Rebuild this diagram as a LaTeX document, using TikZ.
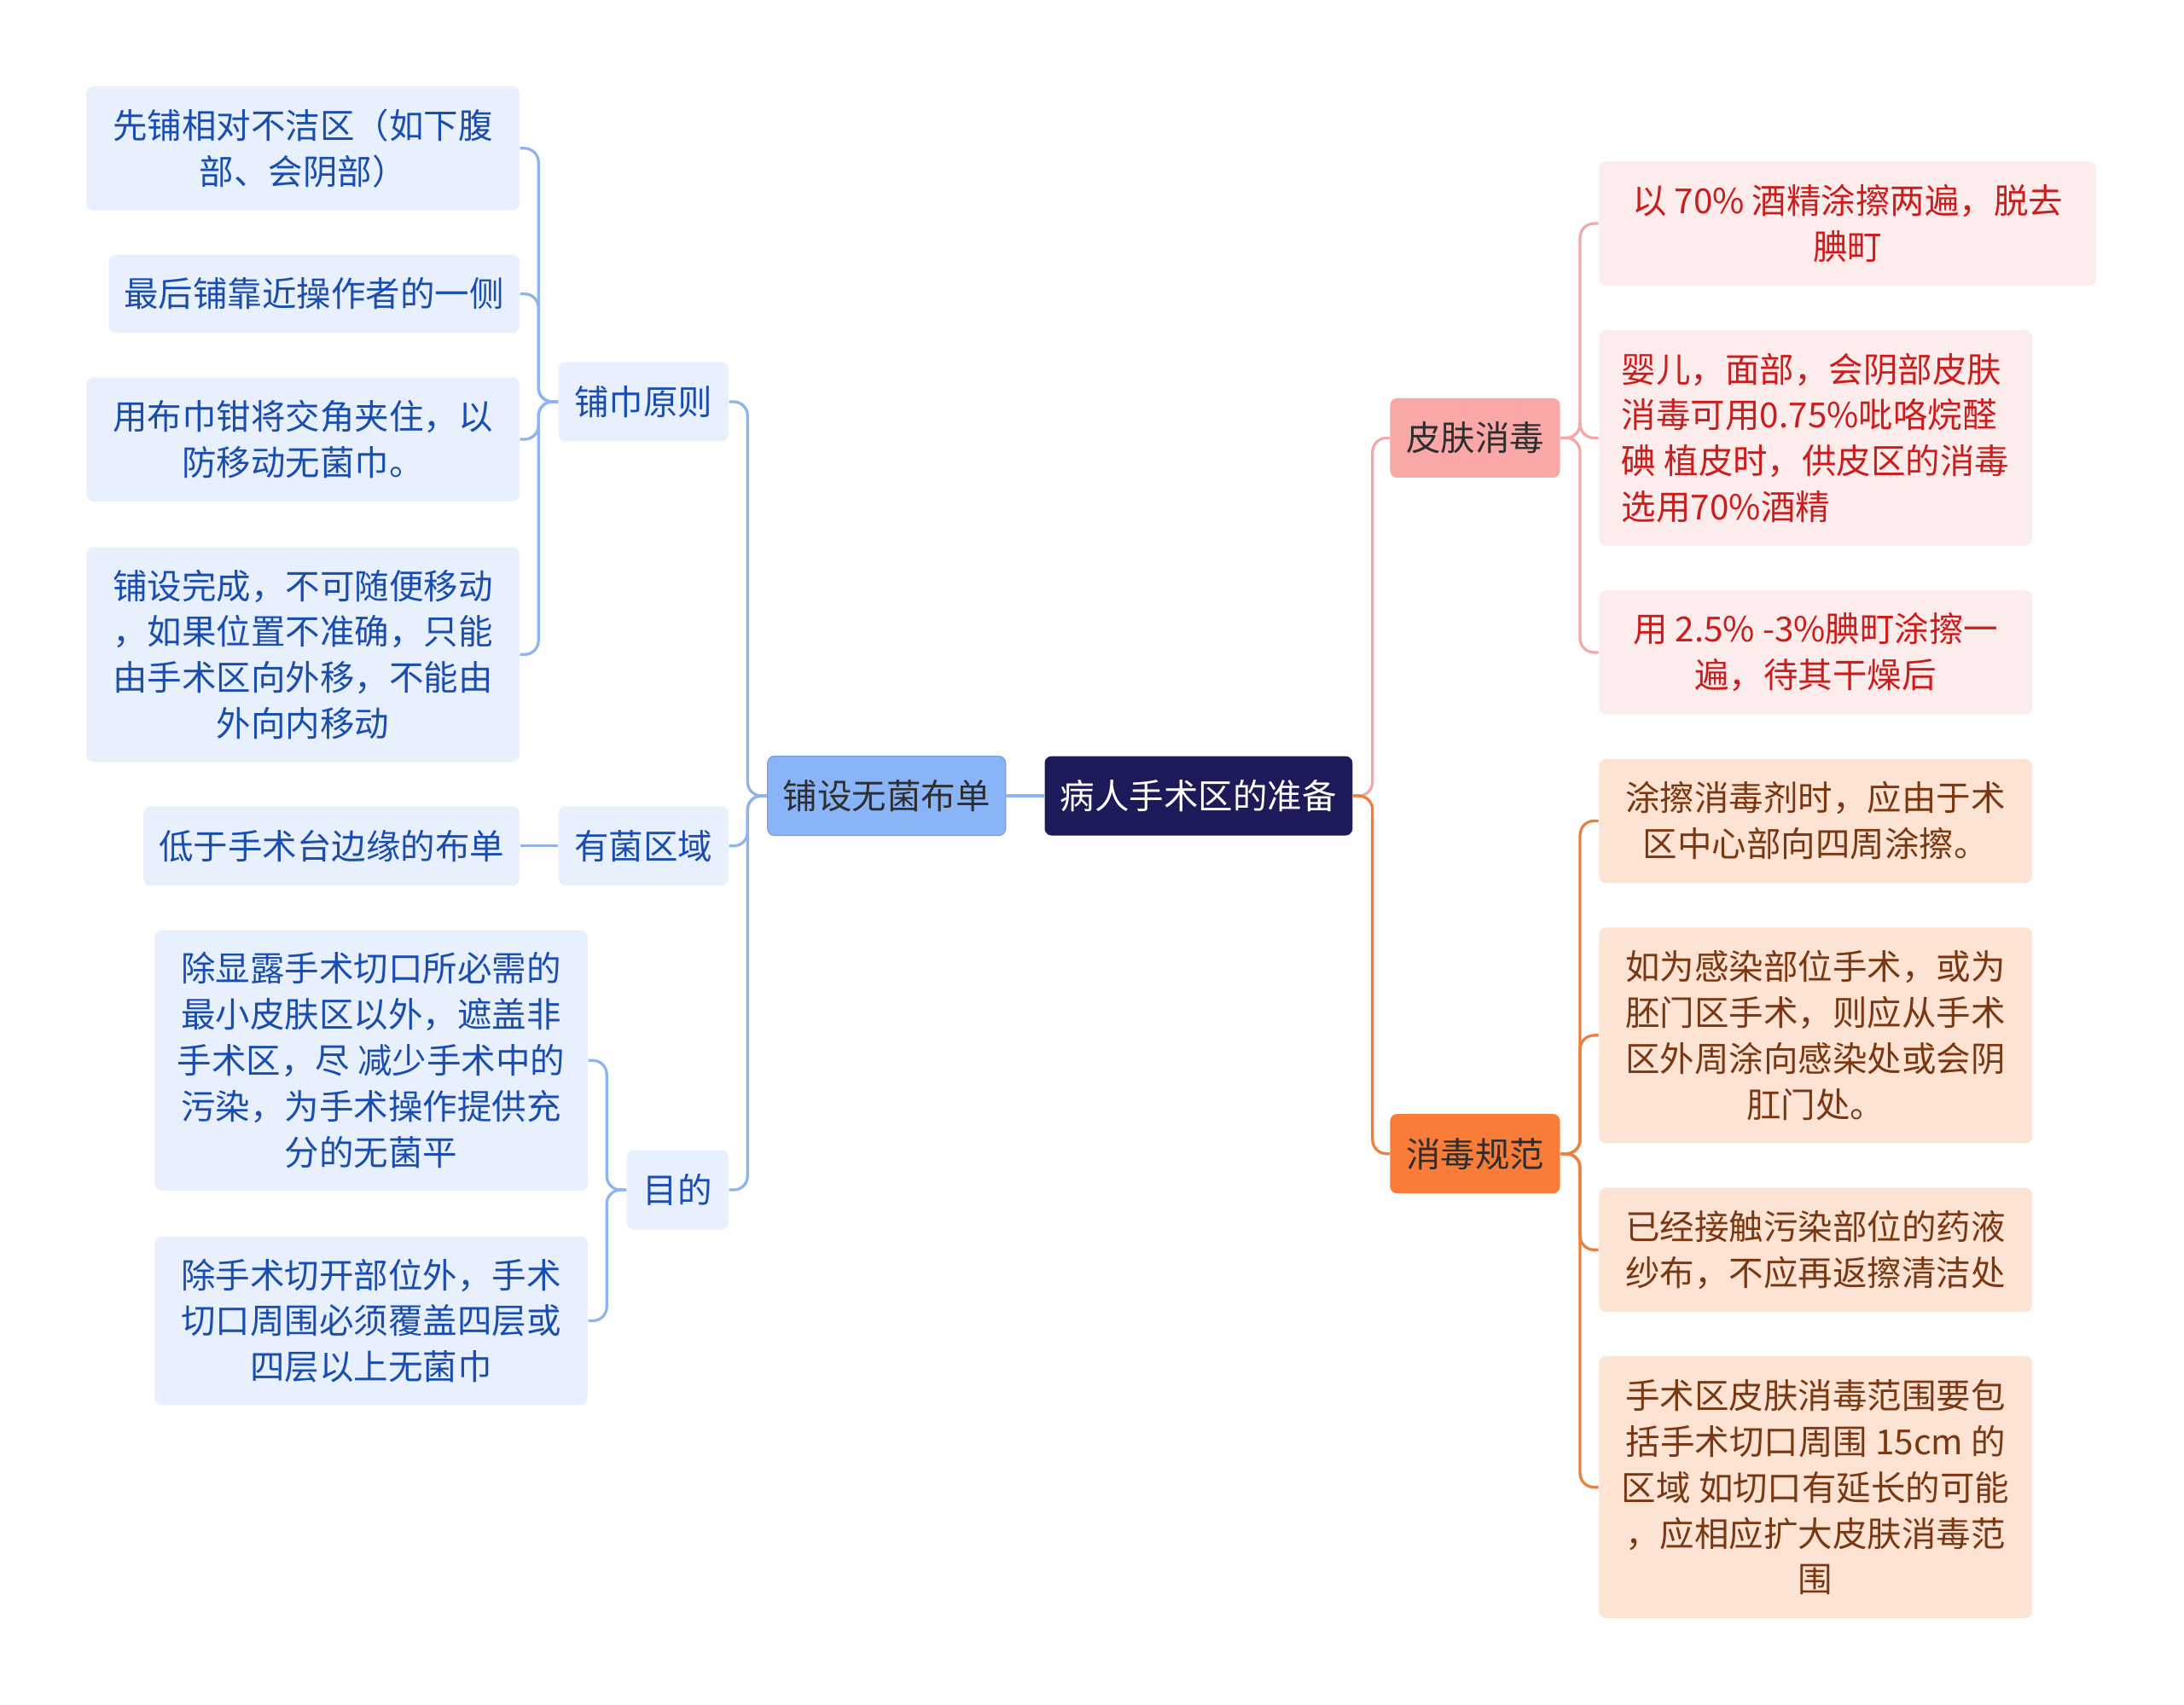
\documentclass[tikz,border=0pt]{standalone}
\usepackage{fontspec}
\setmainfont{Noto Sans CJK SC}

\definecolor{rootbg}{HTML}{1C1A58}
\definecolor{sheetbg}{HTML}{8AB4F8}
\definecolor{bluebg}{HTML}{E8F0FE}
\definecolor{bluetxt}{HTML}{1A4DB0}
\definecolor{blueline}{HTML}{8FB3EC}
\definecolor{pinkbg}{HTML}{F9A7A7}
\definecolor{pinkleaf}{HTML}{FDECEC}
\definecolor{redtxt}{HTML}{CC1D1D}
\definecolor{pinkline}{HTML}{F2A9A9}
\definecolor{orangebg}{HTML}{F97C38}
\definecolor{orangeleaf}{HTML}{FDE3D4}
\definecolor{browntxt}{HTML}{7A3812}
\definecolor{orangeline}{HTML}{EE7E3E}
\definecolor{darktxt}{HTML}{2E2E2E}

\begin{document}
\begin{tikzpicture}[x=0.5pt, y=-0.5pt,
  box/.style={rectangle, rounded corners=2.5pt, inner sep=0pt, align=center,
    font=\fontsize{12.4}{16.5}\selectfont},
  bluebox/.style={box, fill=bluebg, text=bluetxt},
  pinkbox/.style={box, fill=pinkleaf, text=redtxt},
  orangebox/.style={box, fill=orangeleaf, text=browntxt},
  link/.style={line width=1pt, rounded corners=5pt},
  bluelink/.style={link, draw=blueline},
  pinklink/.style={link, draw=pinkline},
  orangelink/.style={link, draw=orangeline}]
  \useasboundingbox (0,0) rectangle (1568,1224);

  % centre and first level
  \node[box, fill=rootbg, text=white, minimum width=110.5pt, minimum height=28.5pt] (root) at (860.5,571.5) {病人手术区的准备};
  \node[box, fill=sheetbg, draw=sheetbg!85!black, line width=0.3pt, text=darktxt, minimum width=85.5pt, minimum height=28.5pt] (sheet) at (636.5,571.5) {铺设无菌布单};
  \node[box, fill=pinkbg, text=darktxt, minimum width=61pt, minimum height=28.5pt] (skin) at (1059,314.5) {皮肤消毒};
  \node[box, fill=orangebg, text=darktxt, minimum width=61pt, minimum height=28.5pt] (norm) at (1059,828.5) {消毒规范};

  % left side
  \node[bluebox, minimum width=61pt, minimum height=28.5pt] (rule) at (462,288.5) {铺巾原则};
  \node[bluebox, minimum width=61pt, minimum height=28.5pt] (germ) at (462,607.5) {有菌区域};
  \node[bluebox, minimum width=36.5pt, minimum height=28.5pt] (aim) at (486.5,854.5) {目的};

  \node[bluebox, minimum width=155.5pt, minimum height=44.5pt] (rule1) at (217.5,106.5) {先铺相对不洁区（如下腹\\部、会阴部）};
  \node[bluebox, minimum width=147.5pt, minimum height=28pt] (rule2) at (225.5,211) {最后铺靠近操作者的一侧};
  \node[bluebox, minimum width=155.5pt, minimum height=44.5pt] (rule3) at (217.5,315.5) {用布巾钳将交角夹住，以\\防移动无菌巾。};
  \node[bluebox, minimum width=155.5pt, minimum height=77pt] (rule4) at (217.5,470) {铺设完成，不可随便移动\\，如果位置不准确，只能\\由手术区向外移，不能由\\外向内移动};
  \node[bluebox, minimum width=135pt, minimum height=28.5pt] (germ1) at (238,607.5) {低于手术台边缘的布单};
  \node[bluebox, minimum width=155.5pt, minimum height=93.5pt] (aim1) at (266.5,761.5) {除显露手术切口所必需的\\最小皮肤区以外，遮盖非\\手术区，尽 减少手术中的\\污染，为手术操作提供充\\分的无菌平};
  \node[bluebox, minimum width=155.5pt, minimum height=60.5pt] (aim2) at (266.5,948.5) {除手术切开部位外，手术\\切口周围必须覆盖四层或\\四层以上无菌巾};

  % right side
  \node[pinkbox, minimum width=178.5pt, minimum height=44.5pt] (skin1) at (1326.5,160.5) {以 70\% 酒精涂擦两遍，脱去\\腆町};
  \node[pinkbox, align=left, minimum width=155.5pt, minimum height=77.5pt] (skin2) at (1303.5,314.5) {婴儿，面部，会阴部皮肤\\消毒可用0.75\%吡咯烷醛\\碘 植皮时，供皮区的消毒\\选用70\%酒精};
  \node[pinkbox, minimum width=155.5pt, minimum height=44.5pt] (skin3) at (1303.5,468.5) {用 2.5\% -3\%腆町涂擦一\\遍，待其干燥后};

  \node[orangebox, minimum width=155.5pt, minimum height=44.5pt] (norm1) at (1303.5,589.5) {涂擦消毒剂时，应由于术\\区中心部向四周涂擦。};
  \node[orangebox, minimum width=155.5pt, minimum height=77.5pt] (norm2) at (1303.5,743.5) {如为感染部位手术，或为\\胚门区手术，则应从手术\\区外周涂向感染处或会阴\\肛门处。};
  \node[orangebox, minimum width=155.5pt, minimum height=44.5pt] (norm3) at (1303.5,897.5) {已经接触污染部位的药液\\纱布，不应再返擦清洁处};
  \node[orangebox, minimum width=155.5pt, minimum height=94pt] (norm4) at (1303.5,1068) {手术区皮肤消毒范围要包\\括手术切口周围 15cm 的\\区域 如切口有延长的可能\\，应相应扩大皮肤消毒范\\围};

  % connectors
  \draw[bluelink] (root.west) -- (sheet.east);
  \foreach \c in {rule, germ, aim}
    \draw[bluelink] (sheet.west) -- ++(-7pt,0) |- (\c.east);
  \foreach \c in {rule1, rule2, rule3, rule4}
    \draw[bluelink] (rule.west) -- ++(-7pt,0) |- (\c.east);
  \draw[bluelink] (germ.west) -- (germ1.east);
  \foreach \c in {aim1, aim2}
    \draw[bluelink] (aim.west) -- ++(-7pt,0) |- (\c.east);

  \draw[pinklink] (root.east) -- ++(7pt,0) |- (skin.west);
  \draw[orangelink] (root.east) -- ++(7pt,0) |- (norm.west);
  \foreach \c in {skin1, skin2, skin3}
    \draw[pinklink] (skin.east) -- ++(7pt,0) |- (\c.west);
  \foreach \c in {norm1, norm2, norm3, norm4}
    \draw[orangelink] (norm.east) -- ++(7pt,0) |- (\c.west);
\end{tikzpicture}
\end{document}
